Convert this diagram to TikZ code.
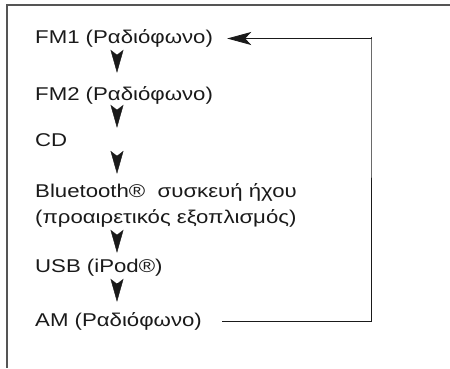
\documentclass[tikz,border=0pt]{standalone}
\usepackage{fontspec}
\setmainfont{Liberation Sans}[FakeStretch=1.2]
\usetikzlibrary{arrows.meta,positioning,calc}
\definecolor{frame}{HTML}{555555}
\definecolor{ink}{HTML}{1A1A1A}

\begin{document}
\begin{tikzpicture}[x=1pt, y=-1pt,
          mode/.style={anchor=base west, inner sep=0pt, text height=13pt, text depth=4pt, font=\fontsize{18.5}{26}\selectfont, text=ink},
          mode2/.style={anchor=base west, inner sep=0pt, align=left, font=\fontsize{18.5}{26}\selectfont, text=ink},
          flow/.style={-{Stealth[length=23pt, width=13pt, inset=5pt]}, line width=0.4pt, color=ink},
          back/.style={-{Stealth[length=24pt, width=13pt, inset=6pt]}, line width=0.8pt, color=ink}]
        \useasboundingbox (0,0) rectangle (450,368);
        \draw[frame, line width=1.5pt] (450,5) -- (7,5) -- (7,368);
        \node[mode] (fm1) at (35,43) {FM1 (Ραδιόφωνο)};
        \node[mode] (fm2) at (35,100) {FM2 (Ραδιόφωνο)};
        \node[mode] (cd) at (35,146) {CD};
        % two lines, base is the last one
        \node[mode2] (bt) at (35,223) {Bluetooth®\,\, συσκευή ήχου\\(προαιρετικός εξοπλισμός)};
        \node[mode] (usb) at (35,272) {USB (iPod®)};
        \node[mode] (am) at (35,326) {AM (Ραδιόφωνο)};
        \coordinate (ax) at (117,0);
        \coordinate (rt) at (371,37);
        \draw[flow, shorten <=8pt, shorten >=14pt] (fm1.south -| ax) -- (fm2.north -| ax);
        \draw[flow, shorten <=7pt, shorten >=5pt] (fm2.south -| ax) -- (cd.north -| ax);
        \draw[flow, shorten <=8pt, shorten >=9pt] (cd.south -| ax) -- (bt.north -| ax);
        \draw[flow, shorten <=8pt, shorten >=6pt] (bt.south -| ax) -- (usb.north -| ax);
        \draw[flow, shorten <=7pt, shorten >=11pt] (usb.south -| ax) -- (am.north -| ax);
        \draw[back, shorten <=20pt, shorten >=14pt] (am.east) -| (rt) |- (fm1.east);
      \end{tikzpicture}
\end{document}
